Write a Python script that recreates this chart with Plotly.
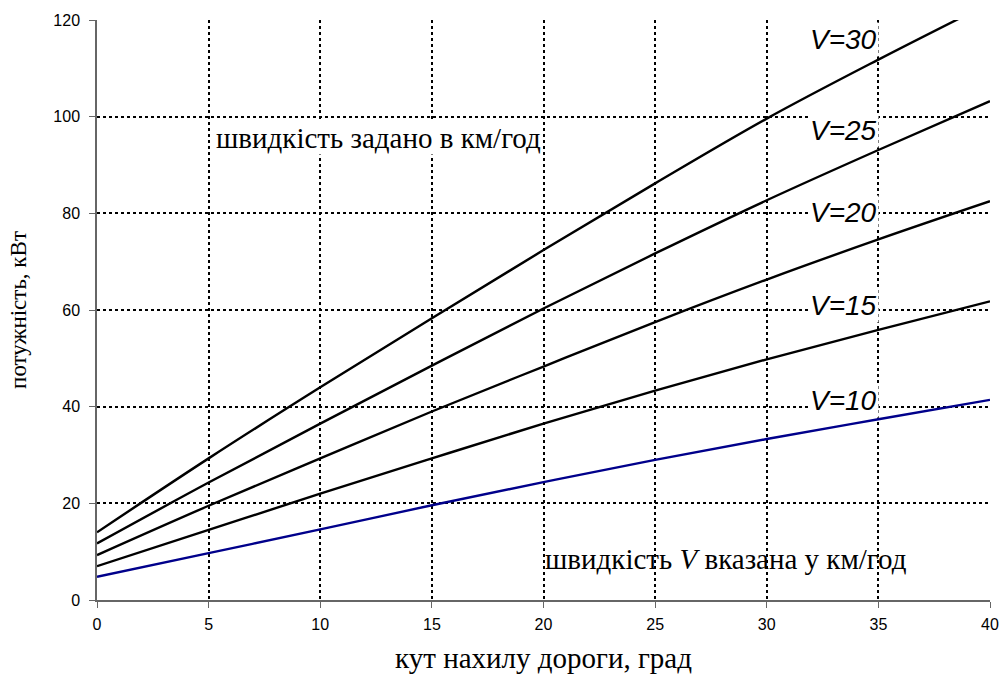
import plotly.graph_objects as go

angle = [0, 5, 10, 15, 20, 25, 30, 35, 40]
p_v10 = [4.8, 9.7, 14.6, 19.6, 24.4, 29.0, 33.3, 37.4, 41.4]
p_v15 = [7.0, 14.5, 22.0, 29.3, 36.5, 43.3, 49.8, 55.9, 61.8]
p_v20 = [9.3, 19.5, 29.3, 39.0, 48.3, 57.5, 66.3, 74.6, 82.5]
p_v25 = [11.7, 24.3, 36.5, 48.5, 60.3, 71.7, 82.7, 93.1, 103.2]
p_v30 = [14.0, 29.3, 44.0, 58.3, 72.4, 86.2, 99.6, 111.8, 123.5]

series = [("V=10", p_v10, "#00008B"), ("V=15", p_v15, "black"),
          ("V=20", p_v20, "black"), ("V=25", p_v25, "black"),
          ("V=30", p_v30, "black")]
label_y = [41.3, 60.9, 80.2, 97.2, 116.0]
label_x = 35.05

fig = go.Figure()
for (name, vals, col) in series:
    fig.add_trace(go.Scatter(x=angle, y=vals, mode="lines", name=name,
                             line=dict(color=col, width=2.4, shape="spline"),
                             showlegend=False, cliponaxis=True))

for (name, vals, col), ly in zip(series, label_y):
    fig.add_annotation(x=label_x, y=ly, text="<i>" + name + "</i>", showarrow=False,
                       xanchor="right", yanchor="middle",
                       font=dict(family="Liberation Sans, Arial", size=28, color="black"),
                       bgcolor="white", borderpad=1)

fig.add_annotation(x=5.3, y=95.6, text="швидкість задано в км/год", showarrow=False,
                   xanchor="left", yanchor="middle",
                   font=dict(family="Liberation Serif, Times New Roman", size=29, color="black"),
                   bgcolor="white", borderpad=0)
fig.add_annotation(x=20.0, y=8.5, text="швидкість <i>V</i> вказана у км/год", showarrow=False,
                   xanchor="left", yanchor="middle",
                   font=dict(family="Liberation Serif, Times New Roman", size=29, color="black"),
                   bgcolor="rgba(0,0,0,0)", borderpad=0)

grid = dict(showgrid=True, gridcolor="black", griddash="3px,3px", gridwidth=1.8)
fig.update_xaxes(range=[0, 40], tickvals=[0, 5, 10, 15, 20, 25, 30, 35, 40],
                 ticks="outside", ticklen=6, tickcolor="#666", showline=True,
                 linecolor="#666", linewidth=1.5, zeroline=False, ticklabelstandoff=3,
                 tickfont=dict(family="Liberation Sans, Arial", size=16, color="black"),
                 title=dict(text="кут нахилу дороги, град", standoff=16,
                            font=dict(family="Liberation Serif, Times New Roman", size=29, color="black")),
                 **grid)
fig.update_yaxes(range=[0, 120], tickvals=[0, 20, 40, 60, 80, 100, 120],
                 ticks="outside", ticklen=6, tickcolor="#666", showline=True,
                 linecolor="#666", linewidth=1.5, zeroline=False, ticklabelstandoff=6,
                 tickfont=dict(family="Liberation Sans, Arial", size=16, color="black"),
                 title=dict(text="потужність, кВт", standoff=20,
                            font=dict(family="Liberation Serif, Times New Roman", size=23, color="black")),
                 **grid)

fig.update_layout(width=1002, height=679, plot_bgcolor="white", paper_bgcolor="white",
                  margin=dict(l=97, r=12, t=20, b=79, autoexpand=False))
fig.write_html("out.html", config={"displayModeBar": False},
               post_script="document.body.style.margin='0';")
